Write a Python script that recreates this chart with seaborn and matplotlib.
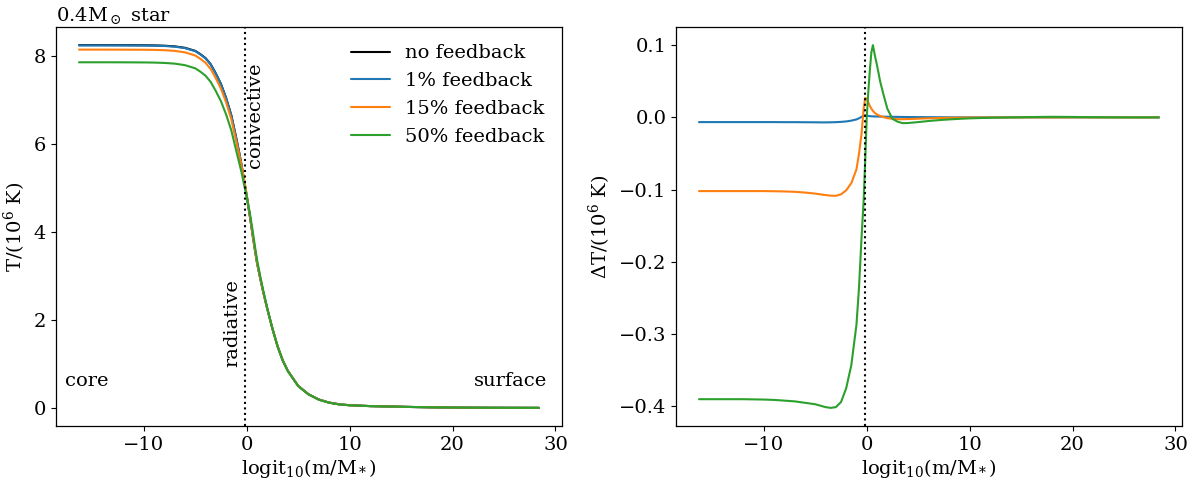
import numpy as np
import pandas as pd
import matplotlib
matplotlib.use("Agg")
import matplotlib.pyplot as plt
import seaborn as sns

# ---- data ----
x_logit = [-16.3, -14, -12, -10, -9, -8, -7, -6, -5, -4.5,
           -4, -3.5, -3, -2.5, -2, -1.5, -1, -0.75, -0.5, -0.3,
           -0.15, 0, 0.15, 0.3, 0.45, 0.6, 0.8, 1, 1.3, 1.6,
           2, 2.5, 3, 3.5, 4, 5, 6, 7, 8, 9,
           10, 12, 14, 16, 18, 20, 22, 24, 26, 28.4]

T_nofb = [8.256, 8.256, 8.255, 8.253, 8.250, 8.243, 8.228, 8.195, 8.125, 8.050,
          7.960, 7.820, 7.610, 7.370, 7.050, 6.660, 6.120, 5.830, 5.520, 5.240,
          5.030, 4.820, 4.590, 4.370, 4.130, 3.890, 3.590, 3.300, 2.960, 2.640,
          2.250, 1.800, 1.400, 1.080, 0.840, 0.500, 0.310, 0.190, 0.120, 0.080,
          0.060, 0.040, 0.030, 0.020, 0.012, 0.007, 0.004, 0.002, 0.001, 0.000]

dT_1 = [-0.0065, -0.0065, -0.0065, -0.0065, -0.0065, -0.0066, -0.0066, -0.0067, -0.0068, -0.0069,
        -0.0069, -0.0068, -0.0066, -0.0062, -0.0056, -0.0045, -0.0028, -0.0012, 0.0008, 0.0022,
        0.0028, 0.0025, 0.0020, 0.0017, 0.0015, 0.0014, 0.0013, 0.0012, 0.0011, 0.0010,
        0.0009, 0.0008, 0.0007, 0.0006, 0.0005, 0.0004, 0.0003, 0.0002, 0.0001, 0.0001,
        0.0, 0.0, 0.0, 0.0, 0.0, 0.0, 0.0, 0.0, 0.0, 0.0]

dT_15 = [-0.102, -0.102, -0.102, -0.102, -0.1022, -0.1025, -0.103, -0.104, -0.1055, -0.1065,
         -0.1075, -0.1083, -0.1085, -0.1065, -0.101, -0.091, -0.072, -0.050, -0.022, 0.012,
         0.027, 0.026, 0.021, 0.016, 0.012, 0.009, 0.006, 0.004, 0.002, 0.0005,
         -0.001, -0.002, -0.0025, -0.0025, -0.0023, -0.0018, -0.0013, -0.0009, -0.0006, -0.0004,
         -0.0002, -0.0001, 0.0, 0.0, 0.0, 0.0, 0.0, 0.0, 0.0, 0.0]

dT_50 = [-0.390, -0.390, -0.390, -0.3905, -0.391, -0.392, -0.393, -0.395, -0.397, -0.399,
         -0.401, -0.402, -0.401, -0.394, -0.375, -0.343, -0.287, -0.235, -0.165, -0.115,
         -0.060, 0.0, 0.035, 0.065, 0.090, 0.100, 0.085, 0.072, 0.050, 0.033,
         0.012, -0.002, -0.006, -0.008, -0.0078, -0.0065, -0.005, -0.0038, -0.0028, -0.002,
         -0.0013, -0.0005, 0.0, 0.0005, 0.0008, 0.0006, 0.0003, 0.0001, 0.0, 0.0]

series_labels = ["no feedback", "1% feedback", "15% feedback", "50% feedback"]
series_colors = ["black", "#1f77b4", "#ff7f0e", "#2ca02c"]
boundary_x = -0.15

# ---- style ----
sns.set_style("ticks")
plt.rcParams.update({
    "font.family": ["DejaVu Serif"],
    "mathtext.fontset": "dejavuserif",
    "font.size": 14,
    "axes.edgecolor": "black",
    "axes.labelcolor": "black",
    "text.color": "black",
    "xtick.color": "black",
    "ytick.color": "black",
    "xtick.direction": "out",
    "ytick.direction": "out",
    "axes.linewidth": 0.9,
})

fig = plt.figure(figsize=(11.98, 4.8), dpi=100)
ax1 = fig.add_axes([56 / 1198, 0.1125, 506 / 1198, 0.83125])
ax2 = fig.add_axes([676 / 1198, 0.1125, 506 / 1198, 0.83125])

x = np.array(x_logit)
T0 = np.array(T_nofb)
deltas = [np.zeros_like(T0), np.array(dT_1), np.array(dT_15), np.array(dT_50)]

# left panel: temperature profiles
for lab, col, d in zip(series_labels, series_colors, deltas):
    sns.lineplot(x=x, y=T0 + d, ax=ax1, color=col, label=lab, linewidth=1.5,
                 estimator=None, sort=False)
ax1.axvline(boundary_x, color="black", linestyle=":", linewidth=1.5)
ax1.text(-17.7, 0.5, "core", ha="left", va="baseline", fontsize=14)
ax1.text(29.2, 0.5, "surface", ha="right", va="baseline", fontsize=14)
ax1.text(-0.5, 0.93, "radiative", rotation=90, ha="right", va="bottom", fontsize=14)
ax1.text(-0.05, 5.45, "convective", rotation=90, ha="left", va="bottom", fontsize=14)
ax1.set_xlabel(r"logit$_{10}$(m/M$_*$)", fontsize=14, labelpad=2)
ax1.set_ylabel(r"T/(10$^6$ K)", fontsize=14)
ax1.set_title(r"0.4M$_\odot$ star", loc="left", fontsize=14, pad=4)
ax1.set_yticks([0, 2, 4, 6, 8])
ax1.set_xticks([-10, 0, 10, 20, 30])
leg = ax1.legend(loc="upper right", frameon=False, fontsize=14,
                 handlelength=2.0, borderaxespad=0.5)

# right panel: temperature differences
for lab, col, d in zip(series_labels[1:], series_colors[1:], deltas[1:]):
    sns.lineplot(x=x, y=d, ax=ax2, color=col, linewidth=1.5,
                 estimator=None, sort=False)
ax2.axvline(boundary_x, color="black", linestyle=":", linewidth=1.5)
ax2.set_xlabel(r"logit$_{10}$(m/M$_*$)", fontsize=14, labelpad=2)
ax2.set_ylabel(r"$\Delta$T/(10$^6$ K)", fontsize=14)
ax2.set_xticks([-10, 0, 10, 20, 30])
ax2.set_yticks([-0.4, -0.3, -0.2, -0.1, 0.0, 0.1])

for ax in (ax1, ax2):
    ax.tick_params(labelsize=14)
    for s in ax.spines.values():
        s.set_visible(True)

fig.savefig("out.png", dpi=100)
